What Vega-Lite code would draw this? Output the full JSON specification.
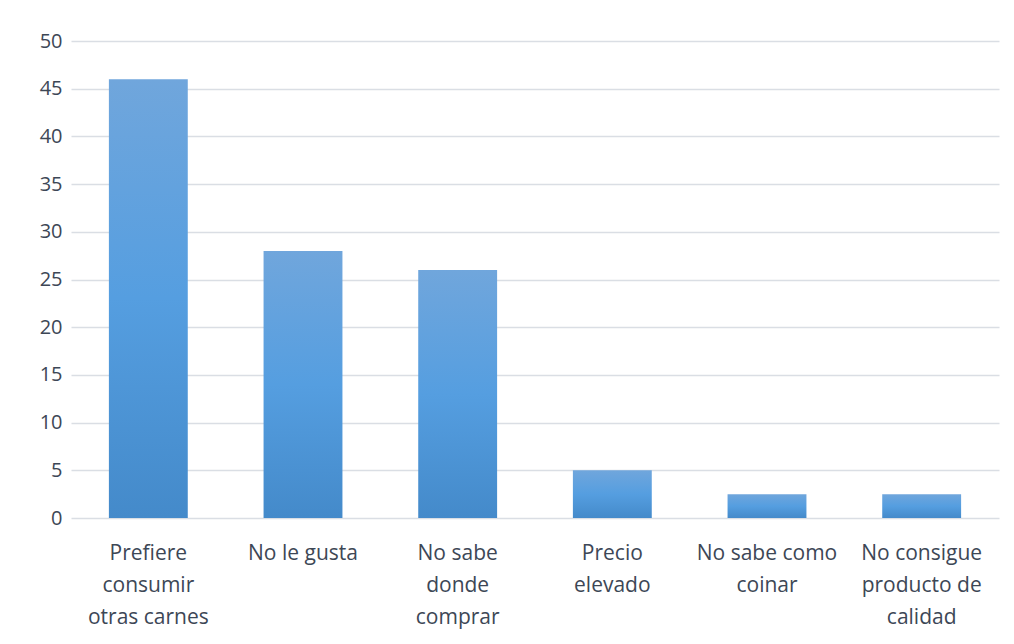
{
  "$schema": "https://vega.github.io/schema/vega-lite/v6.json",
  "autosize": {"type": "none"},
  "padding": {"left": 71, "top": 41, "right": 15, "bottom": 126},
  "width": 928,
  "height": 477,
  "background": "white",
  "config": {"view": {"stroke": null}},
  "data": {
    "values": [
      {"motivo": "Prefiere|consumir|otras carnes", "valor": 46},
      {"motivo": "No le gusta", "valor": 28},
      {"motivo": "No sabe|donde|comprar", "valor": 26},
      {"motivo": "Precio|elevado", "valor": 5},
      {"motivo": "No sabe como|coinar", "valor": 2.5},
      {"motivo": "No consigue|producto de|calidad", "valor": 2.5}
    ]
  },
  "mark": {
    "type": "bar",
    "color": {
      "gradient": "linear",
      "x1": 0, "y1": 0, "x2": 0, "y2": 1,
      "stops": [
        {"offset": 0, "color": "#70a6dc"},
        {"offset": 0.5, "color": "#559ee0"},
        {"offset": 1, "color": "#448aca"}
      ]
    }
  },
  "encoding": {
    "x": {
      "field": "motivo",
      "type": "nominal",
      "sort": null,
      "scale": {"paddingInner": 0.49, "paddingOuter": 0.245},
      "axis": {
        "title": null,
        "labelAngle": 0,
        "labelExpr": "split(datum.label, '|')",
        "labelFont": "Open Sans",
        "labelFontSize": 21,
        "labelColor": "#3d4756",
        "labelLineHeight": 32,
        "labelPadding": 24,
        "domain": false,
        "ticks": false,
        "grid": false
      }
    },
    "y": {
      "field": "valor",
      "type": "quantitative",
      "scale": {"domain": [0, 50]},
      "axis": {
        "title": null,
        "values": [0, 5, 10, 15, 20, 25, 30, 35, 40, 45, 50],
        "labelFont": "Open Sans",
        "labelFontSize": 20,
        "labelColor": "#3d4756",
        "labelPadding": 9,
        "domain": false,
        "ticks": false,
        "gridColor": "#dadee4",
        "gridWidth": 1.5
      }
    }
  }
}
